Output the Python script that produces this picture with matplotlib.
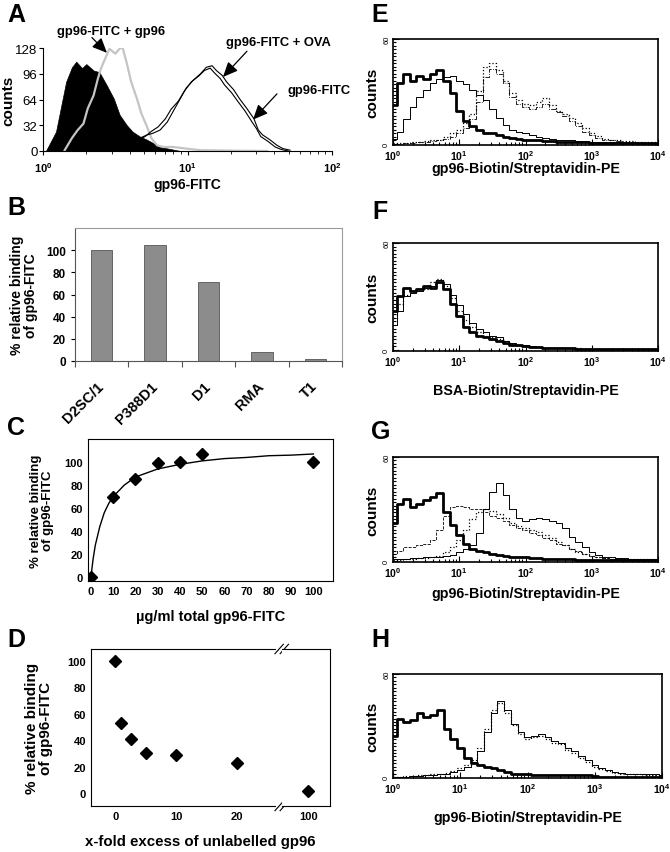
import numpy as np
import matplotlib
matplotlib.use("Agg")
import matplotlib.pyplot as plt
from matplotlib.ticker import MultipleLocator, LogLocator, NullFormatter

W, H = 670, 853

plt.rcParams["font.family"] = ["Liberation Sans", "DejaVu Sans"]
plt.rcParams["font.weight"] = "bold"
plt.rcParams["axes.labelweight"] = "bold"
plt.rcParams["mathtext.default"] = "regular"

# ---- A: gp96-FITC histograms (x in decades) ----
a_neg_dec = [0.02, 0.09, 0.16, 0.20, 0.23, 0.27, 0.30, 0.35, 0.39, 0.44,
             0.49, 0.53, 0.58, 0.62, 0.67, 0.72, 0.76, 0.81, 0.88, 0.95]
a_neg_cnt = [0, 24, 86, 104, 111, 103, 108, 100, 98, 82,
             65, 45, 32, 24, 18, 14, 10, 5, 2.5, 0]
a_comp_dec = [0.15, 0.20, 0.24, 0.28, 0.31, 0.35, 0.38, 0.40, 0.44, 0.46,
              0.50, 0.53, 0.55, 0.58, 0.61, 0.65, 0.68, 0.72, 0.75, 0.79,
              0.83, 0.90, 0.99, 1.09, 1.32, 1.55]
a_comp_cnt = [1, 16, 26, 34, 53, 69, 90, 102, 119, 127,
              121, 127, 129, 109, 86, 65, 47, 30, 16, 7,
              5, 5, 3, 1, 0.4, 0]
a_fitc_dec = [0.62, 0.67, 0.72, 0.76, 0.81, 0.86, 0.90, 0.95, 0.99, 1.04,
              1.09, 1.13, 1.17, 1.20, 1.24, 1.27, 1.32, 1.36, 1.41, 1.46,
              1.49, 1.52, 1.57, 1.62, 1.66, 1.71]
a_fitc_cnt = [7, 16, 20, 22, 26, 36, 49, 65, 78, 88,
              96, 104, 106, 100, 94, 86, 76, 65, 53, 40,
              26, 20, 14, 7, 3, 1]
a_ova_cnt = [5, 13, 18, 24, 30, 40, 52, 62, 74, 86,
             93, 100, 103, 97, 90, 82, 72, 62, 50, 36,
             28, 18, 12, 5, 2, 0]

# ---- B: binding per cell line ----
b_cells = ["D2SC/1", "P388D1", "D1", "RMA", "T1"]
b_binding = [100, 105, 71, 8.5, 1.5]

# ---- C: saturation ----
c_conc = [0, 10, 20, 30, 40, 50, 100]
c_binding = [0, 70, 85, 99, 100, 107, 100]
c_fit_conc = [0, 1, 2, 4, 6, 8, 10, 15, 20, 30, 40, 50, 60, 70, 80, 90, 100]
c_fit_binding = [0, 16, 28, 44, 56, 64, 70, 80, 87, 94, 98, 101, 103, 104,
                 105.5, 106, 107]

# ---- D: competition ----
d_excess = [0, 1, 2.5, 5, 10, 20, 100]
d_binding = [100, 53, 41, 30.5, 29, 22.5, 1.5]

# ---- E-H: flow histograms on a 0.1-decade grid ----
fh_dec = [0.0, 0.1, 0.2, 0.3, 0.4, 0.5, 0.6, 0.7, 0.8, 0.9,
          1.0, 1.1, 1.2, 1.3, 1.4, 1.5, 1.6, 1.7, 1.8, 1.9,
          2.0, 2.1, 2.2, 2.3, 2.4, 2.5, 2.6, 2.7, 2.8, 2.9,
          3.0, 3.1, 3.2, 3.3, 3.4, 3.5, 3.6, 3.7, 3.8, 3.9, 4.0]

e_neg = [22, 35, 40, 36, 39, 37, 40, 42, 36, 29,
         19, 13, 10, 8, 6.5, 6, 5, 4, 3.5, 3,
         2.5, 2, 2, 1.5, 1.5, 1, 1, 1, 1, 1,
         0.5, 0.5, 0.5, 0.5, 0.5, 0.5, 0.5, 0.5, 0.5, 0.5, 0.5]
e_sol = [3, 7, 14, 21, 27, 31, 35, 37, 38, 39,
         36, 34, 31, 28, 25, 20, 15, 11, 8, 7,
         6, 5, 4, 3.5, 3, 2.5, 2, 2, 1.5, 1.5,
         1, 1, 1, 1, 1, 0.5, 0.5, 0.5, 0.5, 0.5, 0.5]
e_dot1 = [0.5, 0.5, 0.5, 1, 1, 1.5, 2, 2.5, 4, 6,
          8, 12, 17, 30, 44, 46, 42, 36, 29, 25,
          23, 22, 24, 26, 22, 19, 17, 15, 12, 9,
          6, 4.5, 3, 2.5, 2, 1.5, 1.5, 1, 1, 1, 1]
e_dot2 = [0, 0, 0.5, 0.5, 1, 1, 1.5, 2, 3, 4,
          6, 9, 14, 24, 38, 43, 40, 35, 27, 23,
          21, 20, 21, 23, 20, 18, 16, 13, 10, 7,
          5, 3.5, 2.5, 2, 1.5, 1, 1, 1, 0.5, 0.5, 0.5]

f_neg = [22, 30, 35, 33, 34, 36, 35, 38, 34, 26,
         19, 13, 10, 8, 7, 6, 5, 4, 3, 2.5,
         2, 1.5, 1.5, 1, 1, 1, 1, 1, 0.5, 0.5,
         0.5, 0.5, 0.5, 0.5, 0.5, 0.5, 0.5, 0.5, 0.5, 0.5, 0.5]
f_sol = [14, 22, 30, 32, 33, 35, 36, 39, 37, 31,
         25, 20, 15, 12, 10, 8, 7, 5, 4, 3,
         2.5, 2, 1.5, 1, 1, 1, 1, 1, 0.5, 0.5,
         0.5, 0.5, 0.5, 0.5, 0.5, 0.5, 0.5, 0.5, 0.5, 0.5, 0.5]
f_dot = [18, 26, 31, 33, 34, 34, 38, 40, 36, 29,
         22, 17, 13, 10, 8, 7, 6, 5, 3.5, 3,
         2, 1.5, 1.5, 1, 1, 1, 1, 1, 1, 0.5,
         0.5, 0.5, 0.5, 0.5, 0.5, 0.5, 0.5, 0.5, 0.5, 0.5, 0.5]

g_neg = [22, 33, 36, 31, 33, 35, 37, 39, 28, 21,
         15, 10, 7, 5.5, 5, 4, 3.5, 3, 2.5, 2,
         2, 1.5, 1.5, 1, 1, 1, 1, 1, 0.5, 0.5,
         0.5, 0.5, 0.5, 0.5, 0.5, 0.5, 0.5, 0.5, 0.5, 0.5, 0.5]
g_sol = [1, 1, 1, 1.5, 1.5, 2, 2, 2.5, 3, 3.5,
         5, 7, 9, 16, 30, 40, 45, 38, 30, 25,
         23, 24, 25, 24, 23, 22, 19, 14, 11, 8,
         5, 3.5, 2.5, 2, 1.5, 1.5, 1, 1, 1, 1, 1]
g_dot1 = [4, 6, 8, 8, 9, 10, 12, 18, 26, 31,
          32, 31, 30, 30, 28, 26, 25, 23, 21, 19,
          18, 16, 15, 13, 12, 10, 9, 7, 5.5, 4,
          3, 2, 1.5, 1, 1, 1, 1, 1, 1, 1, 1]
g_dot2 = [0.5, 0.5, 1, 1, 1.5, 1.5, 2, 3, 5, 8,
          12, 18, 24, 28, 30, 29, 27, 25, 22, 20,
          19, 18, 17, 15, 13, 11, 9, 7, 5, 4,
          3, 2, 1.5, 1, 1, 1, 1, 1, 1, 1, 1]

h_neg = [24, 34, 32, 33, 37, 35, 36, 39, 28, 22,
         17, 11, 8, 7, 6, 5, 4, 3, 2, 1.5,
         1.5, 1, 1, 1, 1, 1, 1, 1, 1, 1,
         0.5, 0, 0, 0, 0, 0, 0, 0, 0, 0, 0]
h_sol = [0, 0, 0, 0.5, 0.5, 1, 1, 1.5, 2, 3,
         4, 6, 9, 15, 26, 37, 44, 39, 31, 26,
         23, 24, 25, 23, 21, 20, 17, 15, 12, 10,
         7, 5, 4, 3, 2.5, 2, 2, 1.5, 1.5, 1.5, 1]
h_dot = [0, 0, 0.5, 0.5, 1, 1, 1.5, 2, 2.5, 3.5,
         5, 7, 10, 17, 28, 39, 43, 37, 30, 25,
         22, 23, 24, 22, 20, 19, 16, 14, 11, 9,
         6, 4.5, 3.5, 2.5, 2, 2, 1.5, 1.5, 1, 1, 1]


def box(left, top, right, bottom):
    return [left / W, 1 - bottom / H, (right - left) / W, (bottom - top) / H]


def dec(values):
    return np.power(10.0, values)


fig = plt.figure(figsize=(W / 100, H / 100), dpi=100)

for letter, x, y in [("A", 16, 15), ("B", 16, 208), ("C", 16, 428),
                     ("D", 16, 640), ("E", 380, 15), ("F", 380, 212),
                     ("G", 381, 432), ("H", 380, 640)]:
    fig.text(x / W, 1 - y / H, letter, fontsize=18, fontweight="bold",
             ha="center", va="center")

# ---------- A ----------
ax = fig.add_axes(box(43, 49, 332, 152))
ax.fill_between(dec(a_neg_dec), a_neg_cnt, color="black", lw=0.5)
ax.plot(dec(a_comp_dec), a_comp_cnt, color="#c4c4c4", lw=1.6)
ax.plot(dec(a_fitc_dec), a_fitc_cnt, color="black", lw=0.8)
ax.plot(dec(a_fitc_dec) * 0.97, a_ova_cnt, color="black", lw=0.8)
ax.set_xscale("log")
ax.set_xlim(1, 100)
ax.set_ylim(0, 128)
ax.set_yticks([0, 32, 64, 96, 128])
ax.set_xticks([1, 10, 100])
ax.set_xticklabels([r"$10^0$", r"$10^1$", r"$10^2$"])
ax.xaxis.set_minor_locator(LogLocator(base=10, subs=np.arange(2, 10)))
ax.xaxis.set_minor_formatter(NullFormatter())
ax.tick_params(labelsize=8, length=3, width=0.8)
ax.tick_params(axis="y", labelsize=9.5, pad=1)
ax.tick_params(which="minor", length=2)
for lab in ax.get_yticklabels():
    lab.set_fontweight("normal")
    lab.set_fontstretch("condensed")
    lab.set_family(["Liberation Sans Narrow", "Liberation Sans"])
for s in ["top", "right"]:
    ax.spines[s].set_visible(False)
ax.set_ylabel("counts", fontsize=11)
ax.yaxis.set_label_coords(-0.095, 0.5)
ax.set_xlabel("gp96-FITC", fontsize=10)
ax.xaxis.set_label_coords(0.5, -0.25)
arrow = dict(arrowstyle="-|>,head_width=0.4,head_length=0.9", color="black",
             lw=0.9, shrinkA=0, shrinkB=0)
ax.annotate("", xy=(2.77, 122), xytext=(2.18, 141), arrowprops=arrow,
            annotation_clip=False)
ax.annotate("", xy=(17.6, 92), xytext=(25.8, 124), arrowprops=arrow,
            annotation_clip=False)
ax.annotate("", xy=(28.4, 39), xytext=(41.6, 71), arrowprops=arrow,
            annotation_clip=False)
ax.text(2.95, 149, "gp96-FITC + gp96", fontsize=9.3, ha="center",
        va="center", clip_on=False)
ax.text(42.3, 136, "gp96-FITC + OVA", fontsize=9.3, ha="center",
        va="center", clip_on=False)
ax.text(49.6, 76, "gp96-FITC", fontsize=9.3, ha="left", va="center",
        clip_on=False)

# ---------- B ----------
ax = fig.add_axes(box(75, 229, 342, 362))
xpos = np.arange(len(b_cells))
ax.bar(xpos, b_binding, width=0.4, color="#8c8c8c", edgecolor="#555555",
       lw=0.6)
ax.set_xlim(-0.5, 4.5)
ax.set_ylim(0, 120)
ax.set_yticks([0, 20, 40, 60, 80, 100])
ax.set_xticks(np.arange(-0.5, 5, 1.0))
ax.set_xticklabels([])
ax.tick_params(axis="x", direction="out", length=4, color="#555555")
ax.tick_params(axis="y", labelsize=8.5, length=3)
for i, name in enumerate(b_cells):
    ax.text(i - 0.09, -16, name, rotation=45, ha="right", va="top",
            fontsize=10.5, rotation_mode="anchor")
for s in ["top", "right"]:
    ax.spines[s].set_color("#9a9a9a")
ax.spines["left"].set_color("#555555")
ax.spines["bottom"].set_color("#555555")
ax.set_ylabel("% relative binding\nof gp96-FITC", fontsize=10,
              linespacing=1.0)
ax.yaxis.set_label_coords(-0.14, 0.5)

# ---------- C ----------
ax = fig.add_axes(box(88, 440, 333, 582))
ax.plot(c_fit_conc, c_fit_binding, color="black", lw=1.0)
ax.plot(c_conc, c_binding, "D", color="black", ms=6.5)
ax.set_xlim(-1.3, 108.8)
ax.set_ylim(-3.2, 120)
ax.set_xticks(np.arange(0, 101, 10))
ax.set_yticks([0, 20, 40, 60, 80, 100])
ax.tick_params(labelsize=8, length=0)
ax.set_ylabel("% relative binding\nof gp96-FITC", fontsize=9.5,
              linespacing=1.0)
ax.yaxis.set_label_coords(-0.14, 0.5)
ax.set_xlabel("\u00b5g/ml total gp96-FITC", fontsize=10.5)
ax.xaxis.set_label_coords(0.5, -0.2)

# ---------- D (broken x axis) ----------
axl = fig.add_axes(box(91, 650, 282, 807))
axr = fig.add_axes(box(282, 650, 330, 807))
for a in (axl, axr):
    a.plot(d_excess, d_binding, "D", color="black", ms=6.5)
    a.set_ylim(-9.8, 109)
    a.tick_params(labelsize=8, length=0)
axl.set_xlim(-4, 27.4)
axr.set_xlim(95.95, 103.3)
axl.set_xticks([0, 10, 20])
axr.set_xticks([100])
axl.set_yticks([0, 20, 40, 60, 80, 100])
axr.set_yticks([])
axl.spines["right"].set_visible(False)
axr.spines["left"].set_visible(False)
for yb in (0, 1):
    axl.plot([0.975, 1.0], [yb, yb], transform=axl.transAxes, color="white",
             lw=1.5, clip_on=False, zorder=5)
    for dx in (-0.015, 0.012):
        axl.plot([1 + dx - 0.022, 1 + dx + 0.022], [yb - 0.03, yb + 0.03],
                 transform=axl.transAxes, color="black", lw=0.8,
                 clip_on=False, zorder=6)
axl.set_ylabel("% relative binding\nof gp96-FITC", fontsize=11,
               linespacing=1.0)
axl.yaxis.set_label_coords(-0.2, 0.5)
axl.set_xlabel("x-fold excess of unlabelled gp96", fontsize=10.8)
axl.xaxis.set_label_coords(0.571, -0.18)

# ---------- E-H ----------
def flow_panel(rect, xlabel, label_y, curves):
    ax = fig.add_axes(rect)
    for values, style, lw in curves:
        ax.step(dec(fh_dec), values, where="mid", color="black",
                linestyle=style, lw=lw)
    ax.set_xscale("log")
    ax.set_xlim(1, 1e4)
    ax.set_ylim(-0.6, 60)
    ax.set_xticks([1, 10, 100, 1000, 10000])
    ax.set_xticklabels([r"$10^{%d}$" % i for i in range(5)], fontsize=7.5)
    ax.xaxis.set_minor_locator(LogLocator(base=10, subs=np.arange(2, 10)))
    ax.xaxis.set_minor_formatter(NullFormatter())
    ax.set_yticks([0, 60])
    ax.set_yticklabels(["0", "60"], rotation=90, fontsize=5.5,
                       fontweight="normal", va="center")
    ax.yaxis.set_minor_locator(MultipleLocator(2))
    ax.tick_params(which="both", direction="in", width=0.8)
    ax.tick_params(which="major", length=4, pad=2)
    ax.tick_params(which="minor", length=2)
    for s in ax.spines.values():
        s.set_linewidth(1.2)
    ax.set_ylabel("counts", fontsize=11)
    ax.yaxis.set_label_coords(-0.05, 0.5)
    ax.set_xlabel(xlabel, fontsize=10.3)
    ax.xaxis.set_label_coords(0.5, label_y)
    return ax


flow_panel(box(393, 40, 658, 146), "gp96-Biotin/Streptavidin-PE", -0.15,
           [(e_sol, "-", 0.7), (e_dot1, ":", 0.9), (e_dot2, "-.", 0.6),
            (e_neg, "-", 2.0)])
flow_panel(box(393, 244, 658, 352), "BSA-Biotin/Streptavidin-PE", -0.3,
           [(f_sol, "-", 0.7), (f_dot, ":", 0.9), (f_neg, "-", 2.0)])
flow_panel(box(393, 458, 658, 563), "gp96-Biotin/Streptavidin-PE", -0.23,
           [(g_sol, "-", 0.7), (g_dot1, "--", 0.6), (g_dot2, ":", 0.9),
            (g_neg, "-", 2.0)])
flow_panel(box(393, 675, 662, 779), "gp96-Biotin/Streptavidin-PE", -0.31,
           [(h_sol, "-", 0.7), (h_dot, ":", 0.9), (h_neg, "-", 2.0)])

fig.savefig("out.png", dpi=100)
